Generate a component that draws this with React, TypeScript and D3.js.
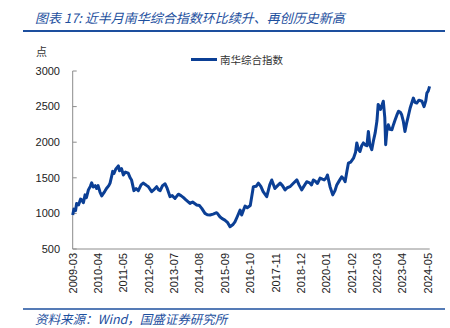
import React from "react";
import * as d3 from "d3";

const dates: string[] = [
  "2009-03-01","2009-03-20","2009-04-15","2009-05-01","2009-06-01","2009-07-01","2009-07-20","2009-08-15","2009-09-10","2009-10-01",
  "2009-11-01","2009-12-01","2009-12-22","2010-01-15","2010-02-15","2010-03-10","2010-04-01","2010-05-01","2010-05-28","2010-06-15",
  "2010-07-15","2010-08-10","2010-09-15","2010-10-05","2010-11-01","2010-11-15","2010-12-05","2011-01-01","2011-02-12","2011-03-01",
  "2011-04-01","2011-05-01","2011-06-01","2011-07-15","2011-08-15","2011-09-05","2011-10-12","2011-11-15","2011-12-20","2012-02-01",
  "2012-03-05","2012-04-01","2012-05-01","2012-05-25","2012-07-15","2012-08-15","2012-10-01","2012-11-01","2012-11-25","2013-01-01",
  "2013-02-10","2013-03-15","2013-04-28","2013-06-01","2013-07-15","2013-09-05","2013-10-15","2013-11-20","2014-01-01","2014-03-05",
  "2014-04-15","2014-06-18","2014-08-01","2014-09-05","2014-10-25","2014-12-01","2015-01-12","2015-03-01","2015-04-25","2015-05-15",
  "2015-06-15","2015-07-15","2015-08-31","2015-10-15","2015-11-20","2016-01-01","2016-02-05","2016-03-15","2016-04-25","2016-05-20",
  "2016-06-15","2016-07-12","2016-08-15","2016-10-01","2016-11-18","2016-12-31","2017-02-05","2017-03-15","2017-04-20","2017-06-15",
  "2017-08-01","2017-09-01","2017-10-20","2017-12-01","2018-01-10","2018-02-15","2018-03-28","2018-05-01","2018-06-12","2018-08-01",
  "2018-09-28","2018-11-01","2018-12-12","2019-01-15","2019-03-01","2019-04-15","2019-05-15","2019-06-12","2019-07-15","2019-08-15",
  "2019-09-25","2019-11-01","2019-11-28","2019-12-31","2020-01-18","2020-02-28","2020-04-10","2020-05-15","2020-06-12","2020-07-15",
  "2020-08-28","2020-10-01","2020-10-20","2020-11-15","2020-12-10","2021-01-15","2021-02-28","2021-04-01","2021-04-20","2021-05-15",
  "2021-06-10","2021-07-05","2021-08-01","2021-09-01","2021-09-25","2021-10-18","2021-11-10","2021-12-10","2022-01-05","2022-02-01",
  "2022-03-01","2022-03-20","2022-04-25","2022-06-08","2022-07-01","2022-07-15","2022-08-01","2022-08-25","2022-09-20","2022-10-20",
  "2022-11-15","2022-12-10","2023-01-05","2023-02-01","2023-03-01","2023-03-20","2023-04-15","2023-05-12","2023-06-05","2023-07-01",
  "2023-08-01","2023-09-20","2023-10-15","2023-11-12","2023-12-15","2024-02-01","2024-03-05","2024-04-01","2024-04-18","2024-05-10",
  "2024-05-30"
];

const values: number[] = [
  977,1060,1040,1140,1120,1200,1190,1150,1260,1220,
  1330,1380,1430,1370,1390,1350,1390,1300,1245,1270,
  1310,1350,1390,1425,1530,1590,1560,1620,1668,1600,
  1630,1540,1580,1565,1500,1470,1320,1350,1320,1400,
  1425,1410,1390,1375,1305,1330,1375,1330,1320,1390,
  1415,1350,1235,1250,1210,1270,1250,1225,1190,1140,
  1160,1118,1110,1070,1000,980,977,990,1010,990,
  953,930,906,870,812,840,882,960,1047,977,
  1040,1103,1080,1110,1375,1380,1425,1380,1305,1235,
  1400,1470,1350,1390,1425,1390,1330,1360,1375,1420,
  1470,1400,1330,1380,1445,1430,1400,1470,1450,1420,
  1495,1480,1470,1500,1540,1375,1260,1320,1400,1450,
  1515,1480,1445,1580,1705,1720,1775,1860,1990,1900,
  1870,1950,1990,1960,1950,2150,1960,1895,2020,2130,
  2300,2530,2460,2575,2350,1965,2150,2245,2180,2175,
  2250,2315,2380,2435,2420,2390,2300,2150,2260,2360,
  2480,2620,2560,2550,2590,2575,2500,2580,2690,2720,
  2785
];

const yTicks: number[] = [500, 1000, 1500, 2000, 2500, 3000];
const tickStart = "2009-03-01";
const tickStepMonths = 13;
const tickCount = 15;
const seriesName = "南华综合指数";
const titleText = "图表 17:  近半月南华综合指数环比续升、再创历史新高";
const sourceText = "资料来源：Wind，国盛证券研究所";
const unitText = "点";

export default function App() {
  const W = 450, H = 328;
  const left = 72.7, right = 429.7, top = 71, bottom = 249;
  const parse = d3.timeParse("%Y-%m-%d");
  const pts = dates.map((d, i) => ({ t: parse(d) as Date, v: values[i] }));
  const t0 = parse(tickStart) as Date;
  const x = d3.scaleTime().domain([t0, d3.timeMonth.offset(t0, 183)]).range([left, right]);
  const y = d3.scaleLinear().domain([500, 3000]).range([bottom, top]);
  const line = d3.line<{ t: Date; v: number }>().x(d => x(d.t)).y(d => y(d.v));
  const xTicks = d3.range(tickCount).map(i => d3.timeMonth.offset(t0, i * tickStepMonths));
  const fmt = d3.timeFormat("%Y-%m");
  const blue = "#1d4f9e";
  const lineBlue = "#0b3f95";
  const axisGray = "#8c8c8c";
  const font = "Arial, 'Liberation Sans', sans-serif";
  const cjk = "'Noto Sans CJK SC', sans-serif";

  return (
    <svg width={W} height={H} style={{ position: "absolute", left: 0, top: 0, background: "#fff" }}>
      <text x={35} y={23} fontFamily={cjk} fontStyle="italic" fontSize={13} fill={blue}>{titleText}</text>
      <line x1={23} x2={445} y1={31} y2={31} stroke={blue} strokeWidth={1.8} />
      <text x={36} y={56} fontFamily={cjk} fontSize={11} fill="#333">{unitText}</text>
      <line x1={191} x2={217} y1={59.5} y2={59.5} stroke={lineBlue} strokeWidth={3} />
      <text x={220} y={63.5} fontFamily={cjk} fontSize={10.5} fill="#333">{seriesName}</text>

      <line x1={left} x2={left} y1={top} y2={bottom} stroke={axisGray} strokeWidth={1} />
      <line x1={left} x2={right} y1={bottom} y2={bottom} stroke={axisGray} strokeWidth={1} />
      {yTicks.map(v => (
        <g key={v}>
          <line x1={left} x2={left + 4} y1={y(v)} y2={y(v)} stroke={axisGray} />
          <text x={60} y={y(v)} dy="0.35em" textAnchor="end" fontFamily={font} fontSize={11} fill="#222">{v}</text>
        </g>
      ))}
      {xTicks.map((t, i) => (
        <text key={i} transform={`translate(${x(t)},253) rotate(-90)`} dy="0.35em" textAnchor="end"
          fontFamily={font} fontSize={11} fill="#222">{fmt(t)}</text>
      ))}

      <path d={line(pts) || ""} fill="none" stroke={lineBlue} strokeWidth={3} strokeLinejoin="round" />

      <line x1={23} x2={445} y1={309} y2={309} stroke={blue} strokeWidth={1.5} />
      <text x={35} y={323.5} fontFamily={cjk} fontStyle="italic" fontSize={12.5} fill={blue}>{sourceText}</text>
    </svg>
  );
}
